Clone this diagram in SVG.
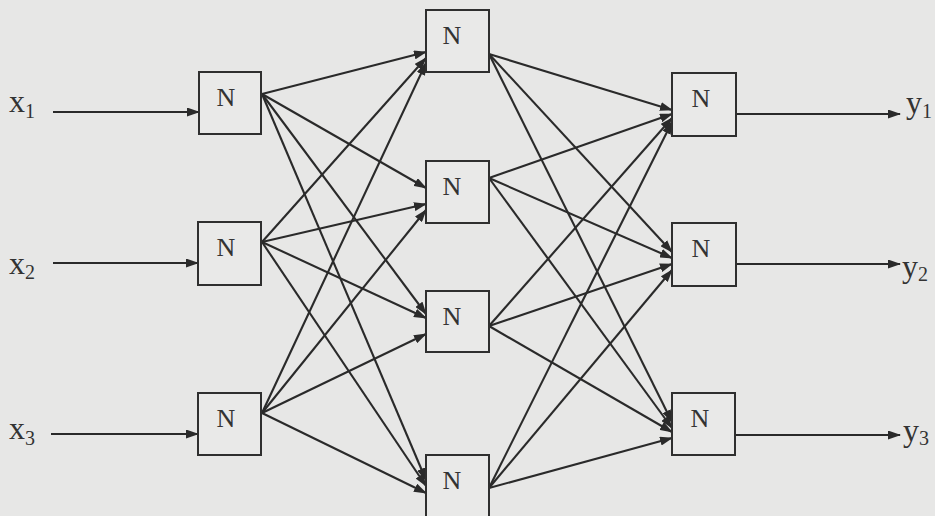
<svg xmlns="http://www.w3.org/2000/svg" width="935" height="516" viewBox="0 0 935 516">
<defs>
<style>
.bg{fill:#e7e7e6}
.box{fill:#e9e9e8;stroke:#2f2f2f;stroke-width:2}
.n{font-family:"Liberation Serif","Times New Roman",serif;font-size:26px;fill:#333}
.lbl{font-family:"Liberation Serif","Times New Roman",serif;font-size:32px;fill:#333}
.sub{font-size:20px}
.c line{stroke:#2a2a2a;stroke-width:2.1;marker-end:url(#ah)}
</style>
<marker id="ah" markerUnits="userSpaceOnUse" markerWidth="13" markerHeight="9" refX="12" refY="4.5" orient="auto">
<path d="M0,0 L13,4.5 L0,9 z" fill="#2a2a2a"/>
</marker>
</defs>
<rect class="bg" x="0" y="0" width="935" height="516"/>
<g id="connectors" class="c">
<line x1="53" y1="112" x2="199" y2="112"/>
<line x1="53" y1="263" x2="198" y2="263"/>
<line x1="51" y1="434" x2="198" y2="434"/>
<line x1="262" y1="94" x2="426" y2="52"/>
<line x1="262" y1="94" x2="426" y2="188"/>
<line x1="262" y1="94" x2="426" y2="314"/>
<line x1="262" y1="94" x2="426" y2="480"/>
<line x1="262" y1="242" x2="426" y2="58"/>
<line x1="262" y1="242" x2="426" y2="204"/>
<line x1="262" y1="242" x2="426" y2="318"/>
<line x1="262" y1="242" x2="426" y2="486"/>
<line x1="262" y1="413" x2="426" y2="63"/>
<line x1="262" y1="413" x2="426" y2="210"/>
<line x1="262" y1="413" x2="426" y2="334"/>
<line x1="262" y1="413" x2="426" y2="493"/>
<line x1="489" y1="54" x2="672" y2="110"/>
<line x1="489" y1="54" x2="672" y2="252"/>
<line x1="489" y1="54" x2="672" y2="422"/>
<line x1="489" y1="178" x2="672" y2="114"/>
<line x1="489" y1="178" x2="672" y2="258"/>
<line x1="489" y1="178" x2="672" y2="428"/>
<line x1="489" y1="326" x2="672" y2="118"/>
<line x1="489" y1="326" x2="672" y2="264"/>
<line x1="489" y1="326" x2="672" y2="432"/>
<line x1="489" y1="488" x2="672" y2="122"/>
<line x1="489" y1="488" x2="672" y2="270"/>
<line x1="489" y1="488" x2="672" y2="438"/>
<line x1="736" y1="114" x2="900" y2="114"/>
<line x1="736" y1="264" x2="900" y2="264"/>
<line x1="735" y1="435" x2="900" y2="435"/>
</g>
<g id="label-x1"><text class="lbl" x="9" y="112">x<tspan class="sub" dy="6">1</tspan></text></g>
<g id="label-x2"><text class="lbl" x="9" y="274">x<tspan class="sub" dy="5">2</tspan></text></g>
<g id="label-x3"><text class="lbl" x="9" y="439">x<tspan class="sub" dy="6">3</tspan></text></g>
<g id="in1"><rect class="box" x="199" y="72" width="62" height="62"/><text class="n" x="226" y="106" text-anchor="middle">N</text></g>
<g id="in2"><rect class="box" x="198" y="222" width="63" height="63"/><text class="n" x="226" y="256" text-anchor="middle">N</text></g>
<g id="in3"><rect class="box" x="198" y="393" width="63" height="62"/><text class="n" x="226" y="427" text-anchor="middle">N</text></g>
<g id="h1"><rect class="box" x="426" y="10" width="63" height="62"/><text class="n" x="452" y="44" text-anchor="middle">N</text></g>
<g id="h2"><rect class="box" x="426" y="161" width="63" height="62"/><text class="n" x="452" y="195" text-anchor="middle">N</text></g>
<g id="h3"><rect class="box" x="426" y="291" width="63" height="61"/><text class="n" x="452" y="325" text-anchor="middle">N</text></g>
<g id="h4"><rect class="box" x="426" y="455" width="63" height="62"/><text class="n" x="452" y="489" text-anchor="middle">N</text></g>
<g id="out1"><rect class="box" x="672" y="73" width="64" height="63"/><text class="n" x="701" y="107" text-anchor="middle">N</text></g>
<g id="out2"><rect class="box" x="672" y="223" width="64" height="63"/><text class="n" x="701" y="257" text-anchor="middle">N</text></g>
<g id="out3"><rect class="box" x="672" y="393" width="63" height="62"/><text class="n" x="700" y="427" text-anchor="middle">N</text></g>
<g id="label-y1"><text class="lbl" x="906" y="113">y<tspan class="sub" dy="5">1</tspan></text></g>
<g id="label-y2"><text class="lbl" x="902" y="277">y<tspan class="sub" dy="4">2</tspan></text></g>
<g id="label-y3"><text class="lbl" x="903" y="441">y<tspan class="sub" dy="4">3</tspan></text></g>
</svg>
